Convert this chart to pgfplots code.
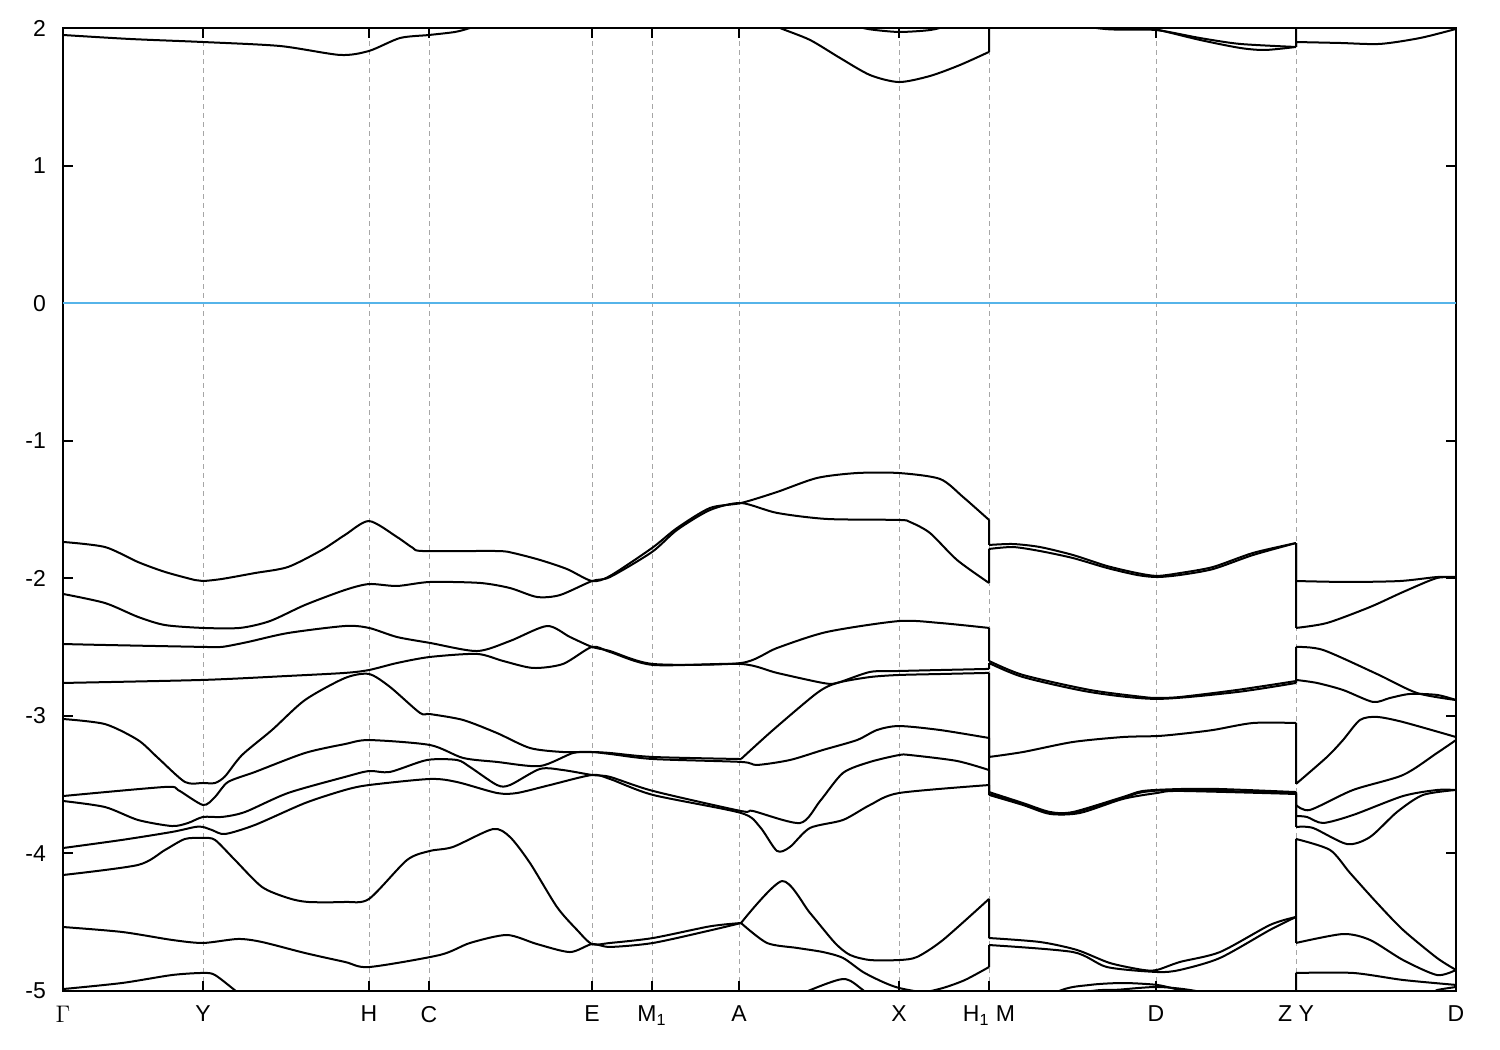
\documentclass[border=0pt]{standalone}
\usepackage{pgfplots}
\pgfplotsset{compat=1.18}
\usepackage{fontspec}
\setmainfont{Liberation Sans}
\definecolor{fermi}{RGB}{86,180,233}

% bands are smoothed within each panel; nan splits them at the panel breaks and at sharp crossings
\pgfplotsset{band/.style={black, line width=1pt, mark=none, line join=round, smooth, tension=0.45}}

\begin{document}
\begin{tikzpicture}
\begin{axis}[
    width=696.5pt, height=481.5pt, scale only axis,
    xmin=63, xmax=1456,
    ymin=-5, ymax=2,
    unbounded coords=jump,
    xtick={63,203,369,429,592,652,739,899,989,1156,1296,1456},
    xticklabels={$\Gamma$, Y, H, C, E, M\textsubscript{1}, A, X, H\textsubscript{1} M, D, Z Y, D},
    ytick={-5,-4,-3,-2,-1,0,1,2},
    tick align=inside, tick pos=both,
    major tick length=5pt,
    xmajorgrids=true,
    grid style={gray!70, line width=0.4pt, dash pattern=on 2.5pt off 2pt},
    axis line style={line width=1pt},
    every tick/.style={black, line width=1pt},
    tick label style={font=\fontsize{11.5}{13}\selectfont},
    /pgf/number format/assume math mode=true,
    yticklabel style={xshift=-5pt},
    xticklabel style={yshift=-4pt},
]

% Fermi level
\addplot[fermi, line width=0.8pt] coordinates {(63,0) (1456,0)};

% conduction bands
\addplot[band] coordinates {
(63,1.949) (130,1.920) (203,1.898) (280,1.869) (340,1.804) (369,1.833) (400,1.927)
(429,1.949) (455,1.971) (470,2.0) (500,2.073) (780,2.1) (850,2.02) (870,1.99) (899,1.971)
(930,1.985) (950,2.02) (989,2.1) (989,nan) (989,2.1) (989,2.15) (989,nan)
(989,2.15) (1080,2.02) (1110,1.99) (1156,1.985)
(1200,1.927) (1240,1.884) (1296,1.862) (1296,nan) (1296,1.862) (1296,1.898) (1296,nan)
(1296,1.898) (1340,1.891) (1380,1.884) (1420,1.927) (1456,1.993)};
\addplot[band] coordinates {
(63,2.3) (700,2.2) (760,2.07) (780,2.0) (810,1.913) (840,1.782) (870,1.658) (899,1.607)
(930,1.651) (960,1.731) (989,1.826) (989,nan) (989,1.826) (989,2.3) (989,nan)
(989,2.3) (1130,2.02) (1156,1.99) (1200,1.913)
(1240,1.855) (1265,1.840) (1296,1.862) (1296,nan) (1296,1.862) (1296,2.2) (1296,nan)
(1296,2.2) (1456,2.2)};

% valence bands
\addplot[band] coordinates {
(63,-1.736) (105,-1.773) (138,-1.882) (165,-1.954) (195,-2.013) (203,-2.020) (222,-2.005)
(255,-1.962) (288,-1.918) (322,-1.794) (345,-1.685) (369,-1.584) (397,-1.700) (413,-1.780)
(423,-1.802) (497,-1.802) (513,-1.816) (540,-1.867) (567,-1.933) (592,-2.020) (610,-1.983)
(652,-1.780) (677,-1.635) (710,-1.489) (741,-1.453) (777,-1.373) (817,-1.271) (857,-1.235)
(899,-1.235) (940,-1.278) (963,-1.409) (989,-1.576) (989,nan) (989,-1.576) (989,-1.758) (989,nan)
(989,-1.758) (1013,-1.751) (1040,-1.773)
(1073,-1.831) (1107,-1.911) (1137,-1.962) (1157,-1.983) (1180,-1.962) (1213,-1.918)
(1253,-1.816) (1296,-1.744) (1296,nan) (1296,-1.744) (1296,-2.020) (1296,nan)
(1296,-2.020) (1347,-2.027) (1400,-2.020) (1437,-1.991) (1456,-1.991)};
\addplot[band] coordinates {
(63,-2.114) (105,-2.180) (138,-2.281) (165,-2.340) (203,-2.361) (240,-2.361) (270,-2.311)
(305,-2.194) (345,-2.085) (369,-2.042) (397,-2.056) (430,-2.027) (480,-2.034) (510,-2.071)
(537,-2.136) (560,-2.122) (592,-2.020) (610,-1.991) (652,-1.809) (677,-1.649) (710,-1.504)
(741,-1.453) (777,-1.525) (827,-1.569) (899,-1.576) (910,-1.591) (930,-1.671) (957,-1.867)
(989,-2.034) (989,nan) (989,-2.034) (989,-1.787) (989,nan)
(989,-1.787) (1013,-1.773) (1040,-1.802) (1073,-1.853) (1107,-1.925)
(1137,-1.976) (1157,-1.991) (1180,-1.976) (1213,-1.933) (1253,-1.831) (1296,-1.744)
(1296,nan) (1296,-1.744) (1296,-2.361) (1296,nan)
(1296,-2.361) (1327,-2.325) (1370,-2.209) (1403,-2.100) (1437,-1.998) (1456,-1.998)};
\addplot[band] coordinates {
(63,-2.478) (105,-2.485) (203,-2.499) (222,-2.499) (248,-2.463) (288,-2.398) (345,-2.347)
(369,-2.361) (397,-2.427) (430,-2.470) (477,-2.529) (510,-2.456) (547,-2.347) (570,-2.427)
(592,-2.499) (610,-2.529) (653,-2.623) (741,-2.616) (777,-2.507) (827,-2.390) (899,-2.311)
(940,-2.325) (989,-2.361) (989,nan) (989,-2.361) (989,-2.601) (989,nan)
(989,-2.601) (1023,-2.703) (1090,-2.812) (1143,-2.863)
(1157,-2.870) (1180,-2.863) (1237,-2.812) (1296,-2.747) (1296,nan) (1296,-2.747) (1296,-2.499) (1296,nan)
(1296,-2.499) (1323,-2.521) (1377,-2.696) (1417,-2.834) (1456,-2.885)};
\addplot[band] coordinates {
(63,-2.761) (203,-2.739) (288,-2.710) (345,-2.688) (369,-2.667) (397,-2.616) (430,-2.572)
(477,-2.550) (503,-2.601) (533,-2.652) (563,-2.623) (592,-2.499) (610,-2.536) (653,-2.630)
(741,-2.623) (777,-2.688) (823,-2.761) (837,-2.761) (870,-2.681) (899,-2.674) (940,-2.667)
(989,-2.659) (989,nan) (989,-2.659) (989,-2.616) (989,nan)
(989,-2.616) (1023,-2.718) (1090,-2.827) (1157,-2.877) (1237,-2.827)
(1296,-2.761) (1296,nan) (1296,-2.761) (1296,-2.739) (1296,nan)
(1296,-2.739) (1317,-2.761) (1343,-2.812) (1373,-2.899) (1390,-2.870)
(1410,-2.841) (1437,-2.848) (1456,-2.885)};
\addplot[band] coordinates {
(63,-3.023) (105,-3.060) (138,-3.176) (158,-3.306) (185,-3.481) (203,-3.488) (215,-3.488)
(225,-3.440) (242,-3.285) (272,-3.103) (305,-2.885) (345,-2.725) (369,-2.696) (390,-2.790)
(420,-2.979) (430,-2.987) (463,-3.030) (497,-3.125) (530,-3.234) (563,-3.263) (592,-3.263)
(610,-3.270) (653,-3.299) (741,-3.314) (741,nan) (741,-3.314) (773,-3.103) (817,-2.834) (837,-2.761) (870,-2.718)
(899,-2.703) (940,-2.696) (989,-2.688) (989,nan) (989,-2.688) (989,-3.299) (989,nan)
(989,-3.299) (1023,-3.263) (1073,-3.190)
(1123,-3.154) (1157,-3.147) (1180,-3.132) (1213,-3.103) (1253,-3.052) (1296,-3.052)
(1296,nan) (1296,-3.052) (1296,-3.495) (1296,nan)
(1296,-3.495) (1327,-3.299) (1343,-3.176) (1360,-3.030) (1377,-3.008) (1403,-3.045)
(1456,-3.154)};
\addplot[band] coordinates {
(63,-3.583) (165,-3.517) (178,-3.539) (203,-3.648) (215,-3.590) (228,-3.481) (255,-3.408)
(305,-3.270) (345,-3.205) (369,-3.176) (430,-3.212) (463,-3.306) (497,-3.335) (540,-3.365)
(573,-3.270) (592,-3.263) (610,-3.277) (653,-3.314) (741,-3.335) (757,-3.357) (790,-3.321)
(823,-3.248) (857,-3.176) (877,-3.103) (899,-3.074) (940,-3.103) (989,-3.161)
(989,nan) (989,-3.161) (989,-3.554) (989,nan)
(989,-3.554) (1023,-3.634) (1050,-3.699) (1073,-3.699) (1123,-3.590) (1143,-3.546) (1180,-3.532)
(1220,-3.532) (1296,-3.554) (1296,nan) (1296,-3.554) (1296,-3.648) (1296,nan)
(1296,-3.648) (1310,-3.684) (1353,-3.539) (1403,-3.430)
(1437,-3.270) (1456,-3.176)};
\addplot[band] coordinates {
(63,-3.619) (105,-3.663) (138,-3.757) (172,-3.801) (188,-3.779) (203,-3.735) (222,-3.735)
(245,-3.699) (288,-3.561) (345,-3.444) (369,-3.401) (390,-3.408) (427,-3.321) (457,-3.321)
(470,-3.372) (497,-3.503) (510,-3.503) (540,-3.386) (563,-3.394) (592,-3.430) (610,-3.444)
(653,-3.546) (741,-3.692) (753,-3.692) (800,-3.779) (820,-3.620) (843,-3.415) (870,-3.335)
(899,-3.285) (910,-3.285) (957,-3.328) (989,-3.394) (989,nan) (989,-3.394) (989,-3.568) (989,nan)
(989,-3.568) (1023,-3.641)
(1050,-3.706) (1073,-3.706) (1123,-3.597) (1143,-3.554) (1180,-3.539) (1296,-3.561)
(1296,nan) (1296,-3.561) (1296,-3.728) (1296,nan)
(1296,-3.728) (1307,-3.735) (1323,-3.779) (1353,-3.721) (1403,-3.583) (1437,-3.539)
(1456,-3.539)};
\addplot[band] coordinates {
(63,-3.961) (122,-3.902) (172,-3.844) (195,-3.808) (203,-3.808) (212,-3.830) (225,-3.859)
(255,-3.793) (305,-3.634) (345,-3.539) (369,-3.503) (430,-3.459) (457,-3.481) (497,-3.561)
(517,-3.561) (550,-3.503) (592,-3.430) (610,-3.459) (653,-3.575) (741,-3.706) (760,-3.808)
(777,-3.982) (790,-3.953) (810,-3.815) (843,-3.757) (870,-3.648) (899,-3.561) (989,-3.503)
(989,nan) (989,-3.503) (989,-3.575) (989,nan)
(989,-3.575) (1023,-3.648) (1050,-3.713) (1080,-3.706) (1123,-3.604) (1157,-3.561)
(1180,-3.546) (1296,-3.568) (1296,nan) (1296,-3.568) (1296,-3.808) (1296,nan)
(1296,-3.808) (1313,-3.815) (1347,-3.932) (1370,-3.881)
(1397,-3.699) (1423,-3.575) (1456,-3.539)};
\addplot[band] coordinates {
(63,-4.157) (138,-4.084) (165,-3.975) (185,-3.895) (203,-3.888) (215,-3.902) (235,-4.048)
(262,-4.244) (288,-4.324) (308,-4.353) (345,-4.353) (369,-4.331) (407,-4.048) (430,-3.982)
(453,-3.953) (493,-3.823) (510,-3.881) (530,-4.070) (557,-4.390) (577,-4.556) (592,-4.659)
(610,-4.651) (653,-4.615) (710,-4.530) (741,-4.506) (741,nan) (741,-4.506) (782,-4.201) (810,-4.433) (835,-4.651)
(850,-4.738) (870,-4.775) (899,-4.775) (917,-4.753) (943,-4.629) (989,-4.331)
(989,nan) (989,-4.331) (989,-4.615) (989,nan)
(989,-4.615) (1040,-4.644) (1077,-4.702) (1110,-4.797) (1143,-4.847) (1157,-4.847) (1180,-4.789)
(1220,-4.717) (1270,-4.520) (1296,-4.462) (1296,nan) (1296,-4.462) (1296,-3.895) (1296,nan)
(1296,-3.895) (1330,-3.975) (1350,-4.142)
(1377,-4.360) (1403,-4.556) (1437,-4.760) (1456,-4.847)};
\addplot[band] coordinates {
(63,-4.535) (122,-4.571) (172,-4.629) (203,-4.651) (238,-4.622) (262,-4.644) (305,-4.724)
(345,-4.789) (369,-4.826) (440,-4.738) (470,-4.651) (507,-4.593) (537,-4.659) (570,-4.717)
(592,-4.659) (610,-4.680) (653,-4.651) (710,-4.560) (741,-4.506) (741,nan) (741,-4.506) (767,-4.651) (797,-4.687)
(823,-4.717) (843,-4.760) (863,-4.862) (883,-4.935) (899,-4.978) (923,-5.007) (943,-4.978)
(965,-4.920) (989,-4.826) (989,nan) (989,-4.826) (989,-4.666) (989,nan)
(989,-4.666) (1073,-4.717) (1107,-4.826) (1157,-4.862)
(1180,-4.847) (1220,-4.760) (1270,-4.556) (1296,-4.462) (1296,nan) (1296,-4.462) (1296,-4.651) (1296,nan)
(1296,-4.651) (1343,-4.586) (1370,-4.629) (1403,-4.775) (1437,-4.884) (1456,-4.847)};
\addplot[band] coordinates {
(63,-4.986) (122,-4.942) (172,-4.884) (203,-4.869) (215,-4.884) (237,-5.007) (260,-5.14)
(300,-5.3) (700,-5.3) (780,-5.10) (803,-5.015) (843,-4.913) (863,-4.993) (890,-5.15)
(989,-5.3) (1057,-5.007) (1090,-4.956) (1123,-4.942) (1157,-4.956) (1180,-4.993)
(1210,-5.03) (1250,-5.14) (1296,-5.25) (1296,nan) (1296,-5.25) (1296,-4.869) (1296,nan)
(1296,-4.869) (1353,-4.869) (1403,-4.920) (1456,-4.956)};
\addplot[band] coordinates {
(63,-5.3) (989,-5.3) (1080,-5.02) (1120,-4.99) (1157,-4.971) (1190,-4.993) (1230,-5.06)
(1296,-5.3) (1296,nan) (1296,-5.1) (1420,-5.03) (1437,-4.993) (1456,-4.971)};

\end{axis}
\path (current axis.south west) ++(-31.5pt,-29.5pt);
\path (current axis.north east) ++(22pt,14pt);
\end{tikzpicture}
\end{document}
